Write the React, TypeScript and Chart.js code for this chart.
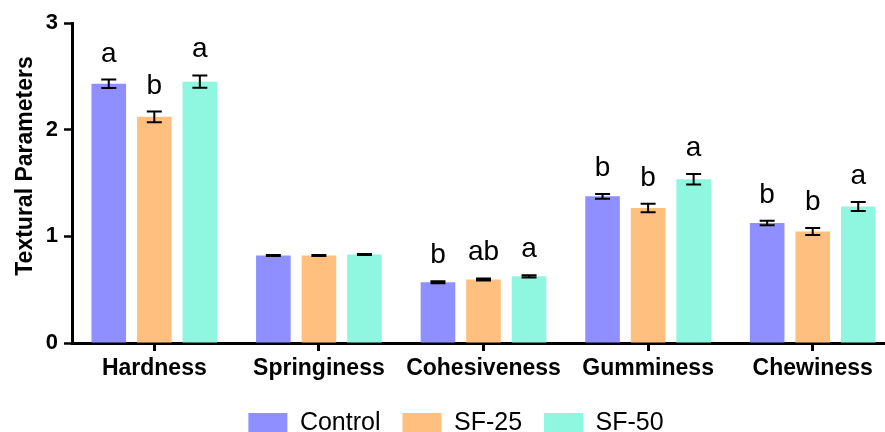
import React, { useEffect, useRef } from "react";
import { Chart, registerables } from "chart.js";

Chart.register(...registerables);

const categories = ["Hardness", "Springiness", "Cohesiveness", "Gumminess", "Chewiness"];
const seriesNames = ["Control", "SF-25", "SF-50"];
const controlValues = [2.43, 0.82, 0.57, 1.375, 1.125];
const sf25Values = [2.12, 0.82, 0.595, 1.265, 1.045];
const sf50Values = [2.45, 0.83, 0.625, 1.535, 1.28];
const controlErrors = [0.04, 0.005, 0.01, 0.023, 0.022];
const sf25Errors = [0.05, 0.005, 0.01, 0.04, 0.033];
const sf50Errors = [0.058, 0.005, 0.01, 0.05, 0.042];
const controlLetters = ["a", "", "b", "b", "b"];
const sf25Letters = ["b", "", "ab", "b", "b"];
const sf50Letters = ["a", "", "a", "a", "a"];
const yTicks = [0, 1, 2, 3];
const yTitle = "Textural Parameters";
const colors = ["#8f8fff", "#ffc07f", "#8ff7df"];

const FONT = "'Liberation Sans', Arial, sans-serif";

const errorsBySeries = [controlErrors, sf25Errors, sf50Errors];
const lettersBySeries = [controlLetters, sf25Letters, sf50Letters];

const errorBarPlugin = {
  id: "errorBars",
  afterDatasetsDraw(chart: any) {
    const ctx = chart.ctx;
    const yScale = chart.scales.y;
    ctx.save();
    chart.data.datasets.forEach((ds: any, i: number) => {
      const meta = chart.getDatasetMeta(i);
      meta.data.forEach((el: any, j: number) => {
        const v = ds.data[j];
        const e = errorsBySeries[i][j];
        const yTop = yScale.getPixelForValue(v + e);
        const yBot = yScale.getPixelForValue(v - e);
        const x = el.x;
        const cap = 7.5;
        ctx.strokeStyle = "#000";
        ctx.lineWidth = 2;
        ctx.beginPath();
        ctx.moveTo(x, yTop);
        ctx.lineTo(x, yBot);
        ctx.moveTo(x - cap, yTop);
        ctx.lineTo(x + cap, yTop);
        ctx.moveTo(x - cap, yBot);
        ctx.lineTo(x + cap, yBot);
        ctx.stroke();
        const letter = lettersBySeries[i][j];
        if (letter) {
          ctx.fillStyle = "#000";
          ctx.font = `28px ${FONT}`;
          ctx.textAlign = "center";
          ctx.textBaseline = "alphabetic";
          ctx.fillText(letter, x, yTop - 18);
        }
      });
    });
    ctx.restore();
  },
};

const yTitlePlugin = {
  id: "yTitle",
  afterDraw(chart: any) {
    const ctx = chart.ctx;
    ctx.save();
    ctx.translate(32, 166);
    ctx.rotate(-Math.PI / 2);
    ctx.fillStyle = "#000";
    ctx.font = `bold 23px ${FONT}`;
    ctx.textAlign = "center";
    ctx.textBaseline = "alphabetic";
    ctx.fillText(yTitle, 0, 0);
    ctx.restore();
  },
};

export default function App() {
  const ref = useRef<HTMLCanvasElement | null>(null);
  useEffect(() => {
    if (!ref.current) return;
    const values = [controlValues, sf25Values, sf50Values];
    const chart = new Chart(ref.current, {
      type: "bar",
      data: {
        labels: categories,
        datasets: seriesNames.map((name, i) => ({
          label: name,
          data: values[i],
          backgroundColor: colors[i],
          borderWidth: 0,
          categoryPercentage: 0.83,
          barPercentage: 0.76,
        })),
      },
      options: {
        animation: false,
        responsive: false,
        devicePixelRatio: 1,
        layout: { padding: { left: 17, right: 5, top: 23, bottom: 0 } },
        plugins: {
          legend: {
            position: "bottom",
            labels: {
              boxWidth: 39,
              boxHeight: 21,
              padding: 22,
              color: "#000",
              font: { family: FONT, size: 25 },
            },
          },
          tooltip: { enabled: false },
        },
        scales: {
          x: {
            afterFit(scale: any) {
              scale.height = 46;
            },
            grid: {
              offset: false,
              drawOnChartArea: false,
              drawTicks: true,
              tickLength: 8,
              tickWidth: 3,
              tickColor: "#000",
            },
            border: { display: true, color: "#000", width: 3 },
            ticks: {
              color: "#000",
              padding: 4,
              maxRotation: 0,
              font: { family: FONT, size: 23, weight: "bold" },
            },
          },
          y: {
            min: 0,
            max: 3,
            afterFit(scale: any) {
              scale.width = 55;
            },
            afterBuildTicks(scale: any) {
              scale.ticks = yTicks.map((v) => ({ value: v }));
            },
            grid: {
              drawOnChartArea: false,
              drawTicks: true,
              tickLength: 8,
              tickWidth: 2.5,
              tickColor: "#000",
            },
            border: { display: true, color: "#000", width: 3 },
            ticks: {
              color: "#000",
              padding: 6,
              font: { family: FONT, size: 22, weight: "bold" },
            },
          },
        },
      },
      plugins: [errorBarPlugin, yTitlePlugin],
    } as any);
    return () => chart.destroy();
  }, []);
  return (
    <div
      style={{
        position: "fixed",
        left: 0,
        top: 0,
        width: 885,
        height: 432,
        overflow: "hidden",
        background: "#fff",
      }}
    >
      <canvas ref={ref} width={900} height={446} style={{ width: 900, height: 446, display: "block" }} />
    </div>
  );
}
